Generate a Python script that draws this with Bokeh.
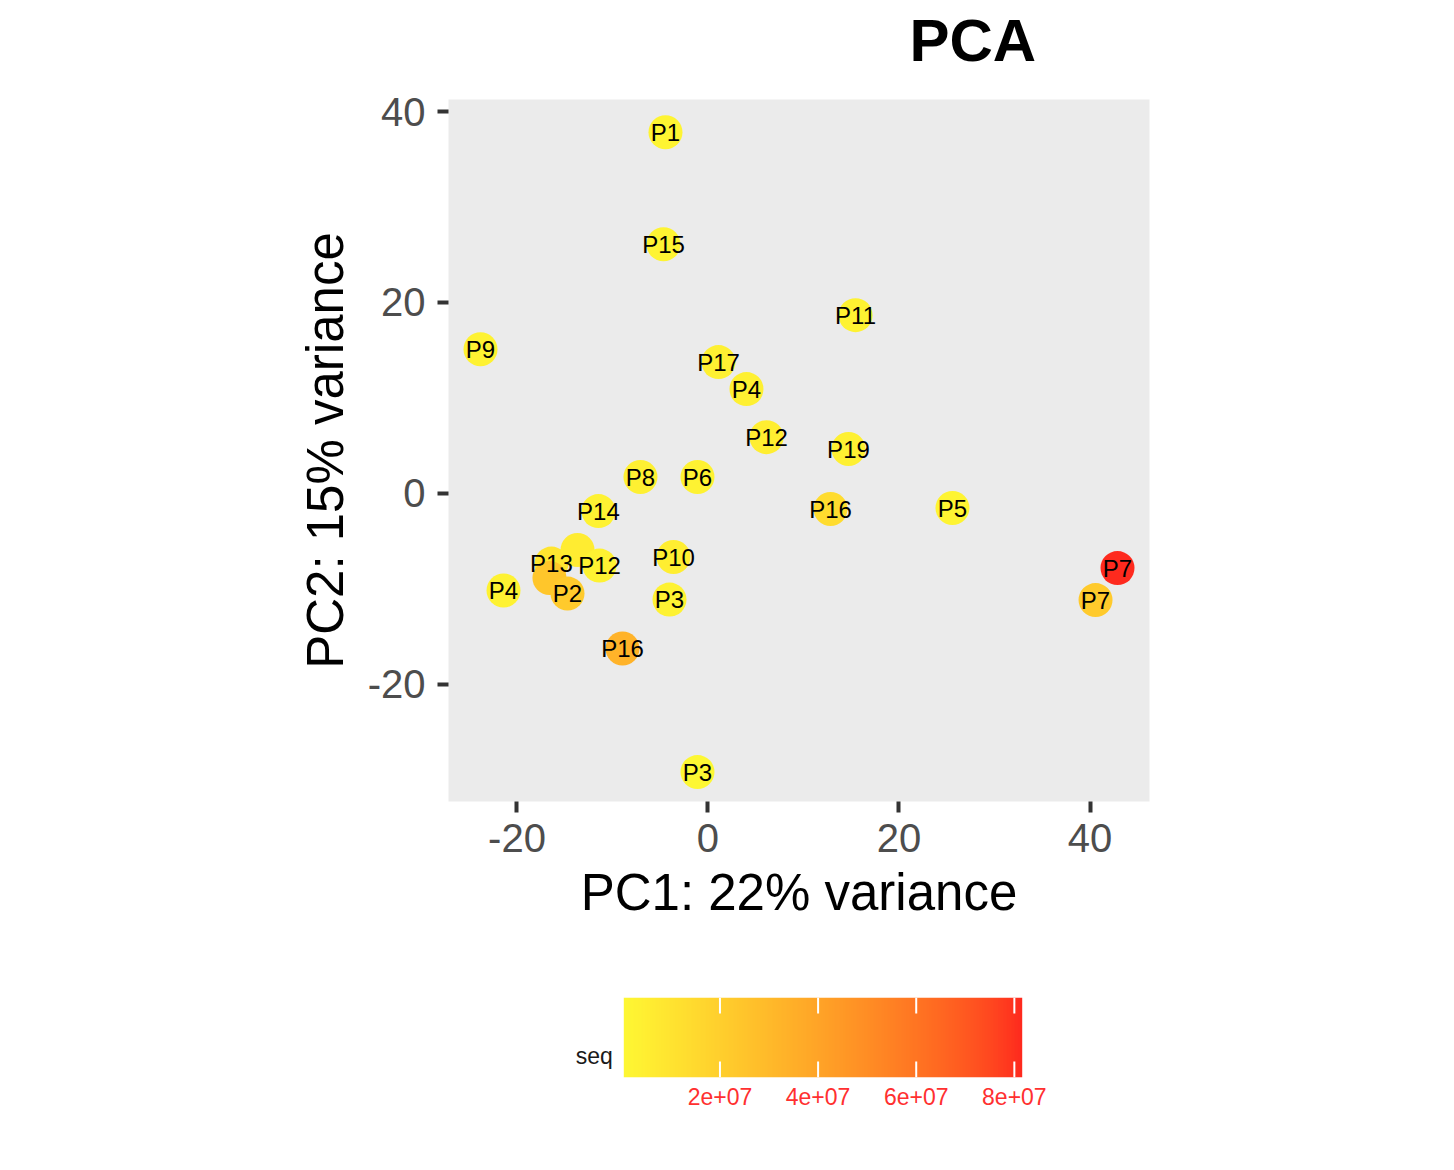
import numpy as np
from bokeh.plotting import figure
from bokeh.layouts import column
from bokeh.models import (Range1d, FixedTicker, LinearColorMapper, ColumnDataSource, Title)
from bokeh.transform import transform
from bokeh.core.properties import value
from bokeh.embed import file_html
from bokeh.resources import INLINE

# ---------------- data ----------------
labels = ["P1", "P15", "P11", "P9", "P17", "P4", "P12", "P19", "P8", "P6", "P14",
          "P16", "P5", "P10", "P13", "", "P12", "", "P2", "P4", "P3", "P16", "P3",
          "P7", "P7"]
pc1 = [-4.45, -4.66, 15.45, -23.82, 1.10, 4.03, 6.13, 14.71, -7.07, -1.10, -11.47,
       12.83, 25.60, -3.61, -16.39, -13.66, -11.36, -16.60, -14.71, -21.41, -4.03, -8.95, -1.10,
       42.88, 40.58]
pc2 = [37.83, 26.10, 18.67, 15.10, 13.75, 10.92, 5.89, 4.64, 1.71, 1.71, -1.86,
       -1.64, -1.54, -6.67, -7.36, -5.93, -7.57, -8.87, -10.50, -10.18, -11.13, -16.26, -29.20,
       -7.83, -11.18]
seq = [2e6, 2e6, 3e6, 3e6, 4e6, 4e6, 5e6, 4e6, 4e6, 3e6, 3e6,
       1.4e7, 2e6, 5e6, 9e6, 6e6, 3e6, 2.4e7, 2.2e7, 3e6, 3e6, 3.3e7, 4e5,
       8.16e7, 2.2e7]
x_ticks = [-20, 0, 20, 40]
y_ticks = [-20, 0, 20, 40]
tick_text = {-20: "-20", 0: "0", 20: "20", 40: "40"}
seq_ticks = [2e7, 4e7, 6e7, 8e7]
seq_tick_labels = ["2e+07", "4e+07", "6e+07", "8e+07"]
title_text = "PCA"

# ---------------- colour gradient (Lab interpolation, like ggplot) ----------------
def _hex2rgb(h):
    h = h.lstrip("#")
    return np.array([int(h[i:i + 2], 16) / 255 for i in (0, 2, 4)])

def _to_lin(c):
    return np.where(c <= 0.04045, c / 12.92, ((c + 0.055) / 1.055) ** 2.4)

def _from_lin(c):
    return np.where(c <= 0.0031308, 12.92 * c, 1.055 * np.clip(c, 0, None) ** (1 / 2.4) - 0.055)

M = np.array([[0.4124, 0.3576, 0.1805], [0.2126, 0.7152, 0.0722], [0.0193, 0.1192, 0.9505]])
WHITE = np.array([0.95047, 1.0, 1.08883])

def _f(t):
    return np.where(t > (6 / 29) ** 3, np.cbrt(t), t / (3 * (6 / 29) ** 2) + 4 / 29)

def _finv(t):
    return np.where(t > 6 / 29, t ** 3, 3 * (6 / 29) ** 2 * (t - 4 / 29))

def rgb2lab(rgb):
    xyz = M @ _to_lin(rgb) / WHITE
    fx, fy, fz = _f(xyz)
    return np.array([116 * fy - 16, 500 * (fx - fy), 200 * (fy - fz)])

def lab2hex(lab):
    L, a, b = lab
    fy = (L + 16) / 116
    xyz = np.array([_finv(fy + a / 500), _finv(fy), _finv(fy - b / 200)]) * WHITE
    rgb = np.clip(_from_lin(np.linalg.inv(M) @ xyz), 0, 1)
    return "#%02x%02x%02x" % tuple(int(round(v * 255)) for v in rgb)

lo_lab, hi_lab = rgb2lab(_hex2rgb("#FDF733")), rgb2lab(_hex2rgb("#FE2A1E"))
palette = [lab2hex(lo_lab + (hi_lab - lo_lab) * t) for t in np.linspace(0, 1, 256)]

seq_lo, seq_hi = min(seq), max(seq)
mapper = LinearColorMapper(palette=palette, low=seq_lo, high=seq_hi)

FONT = "Liberation Sans"
BL, FW, BR = 448, 701, 297   # left border, frame width, right border (shared)

# ---------------- main PCA plot ----------------
p = figure(frame_width=FW, frame_height=702,
           min_border_left=BL, min_border_right=BR, min_border_top=99, min_border_bottom=159,
           x_range=Range1d(-27.17, 46.23), y_range=Range1d(-32.28, 41.26), title=None,
           output_backend="svg", toolbar_location=None)
p.background_fill_color = "#EBEBEB"
p.border_fill_color = "white"
p.outline_line_color = None
p.grid.visible = False

# spacer between frame and title, then the title itself (further from the frame)
p.add_layout(Title(text=" ", text_font_size="1px", standoff=23), "above")
p.add_layout(Title(text=title_text, text_font=FONT, text_font_size="60px",
                   text_font_style="bold", text_color="black", align="left",
                   vertical_align="bottom", offset=461, standoff=0), "above")

src = ColumnDataSource(dict(x=pc1, y=pc2, seq=seq, label=labels))
p.scatter("x", "y", source=src, size=34, line_color=None,
          fill_color=transform("seq", mapper))
p.text("x", "y", text="label", source=src, text_align="center", text_baseline="middle",
       text_font=value(FONT), text_font_size="24px", text_color="black")

for ax, ticks in ((p.xaxis, x_ticks), (p.yaxis, y_ticks)):
    ax.ticker = FixedTicker(ticks=ticks)
    ax.major_label_overrides = dict(tick_text)
    ax.axis_line_color = None
    ax.major_tick_line_color = "#333333"
    ax.major_tick_line_width = 4
    ax.major_tick_in = 0
    ax.major_tick_out = 11
    ax.minor_tick_line_color = None
    ax.major_label_text_font = FONT
    ax.major_label_text_font_size = "40px"
    ax.major_label_text_color = "#4D4D4D"
    ax.axis_label_text_font = FONT
    ax.axis_label_text_font_size = "51px"
    ax.axis_label_text_font_style = "normal"
    ax.axis_label_text_color = "black"

p.xaxis.axis_label = "PC1: 22% variance"
p.yaxis.axis_label = "PC2: 15% variance"
p.xaxis.major_label_standoff = 11
p.xaxis.axis_label_standoff = 9
p.yaxis.major_label_standoff = 12
p.yaxis.axis_label_standoff = 11

# ---------------- colour bar (same frame columns as main plot) ----------------
bar_l, bar_r = 623.3, 1021.7           # bar edges in page pixels
upp = (seq_hi - seq_lo) / (bar_r - bar_l)  # seq units per pixel
p2 = figure(frame_width=FW, frame_height=80,
            min_border_left=BL, min_border_right=BR, min_border_top=37, min_border_bottom=83,
            x_range=Range1d(seq_lo - (bar_l - BL) * upp, seq_hi + (BL + FW - bar_r) * upp),
            y_range=Range1d(0, 1), title=None,
            output_backend="svg", toolbar_location=None)
p2.outline_line_color = None
p2.grid.visible = False
p2.yaxis.visible = False
p2.border_fill_color = "white"
p2.background_fill_color = "white"
p2.image(image=[np.linspace(seq_lo, seq_hi, 400)[None, :]], x=seq_lo, y=0,
         dw=seq_hi - seq_lo, dh=1, color_mapper=mapper)
p2.segment(x0=seq_ticks, y0=[0] * 4, x1=seq_ticks, y1=[0.2] * 4, line_color="white", line_width=2)
p2.segment(x0=seq_ticks, y0=[0.8] * 4, x1=seq_ticks, y1=[1] * 4, line_color="white", line_width=2)
p2.text(x=[seq_lo - 11 * upp], y=[22 / 80], text=["seq"], text_align="right",
        text_baseline="alphabetic", text_font=value(FONT), text_font_size="23px",
        text_color="#1A1A1A")
xa = p2.xaxis
xa.ticker = FixedTicker(ticks=seq_ticks)
xa.major_label_overrides = {t: s for t, s in zip(seq_ticks, seq_tick_labels)}
xa.axis_line_color = None
xa.major_tick_line_color = None
xa.minor_tick_line_color = None
xa.major_label_text_font = FONT
xa.major_label_text_font_size = "23px"
xa.major_label_text_color = "#FF3030"
xa.major_label_standoff = 4

layout = column(p, p2, spacing=0)
open("out.html", "w").write(file_html(layout, INLINE))
